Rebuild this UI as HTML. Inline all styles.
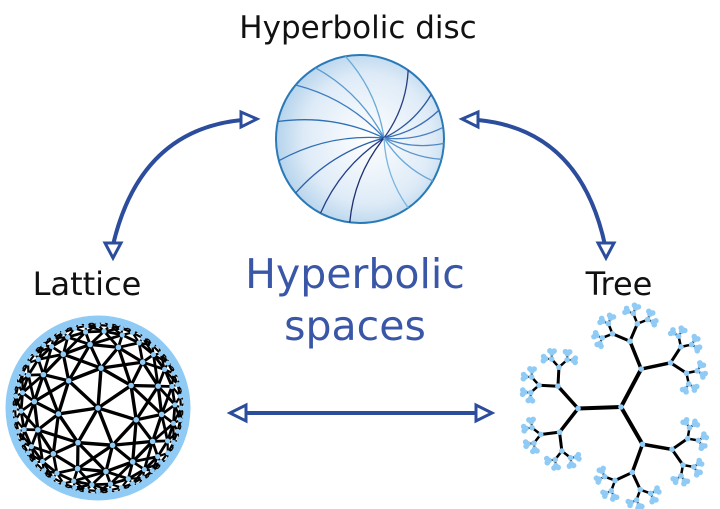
<!DOCTYPE html>
<html><head><meta charset="utf-8"><style>
html,body{margin:0;padding:0;background:#fff;}
svg{display:block;}
text{font-family:"DejaVu Sans","Liberation Sans",sans-serif;}
</style></head><body>
<svg id="s" width="720" height="509" viewBox="0 0 720 509" xmlns="http://www.w3.org/2000/svg">
<defs>
<radialGradient id="g" cx="0.55" cy="0.5" r="0.55">
<stop offset="0" stop-color="#ffffff"/>
<stop offset="0.7" stop-color="#deebf7"/>
<stop offset="1" stop-color="#b5d3ec"/>
</radialGradient>
</defs>
<text x="358" y="38" font-size="31" text-anchor="middle" fill="#111">Hyperbolic disc</text>
<text x="87" y="295" font-size="32" text-anchor="middle" fill="#111">Lattice</text>
<text x="619" y="295" font-size="32" text-anchor="middle" fill="#111">Tree</text>
<text x="355" y="288" font-size="41" text-anchor="middle" fill="#3a57a7">Hyperbolic</text>
<text x="355" y="340" font-size="41" text-anchor="middle" fill="#3a57a7">spaces</text>
<circle cx="360" cy="139" r="84" fill="url(#g)" stroke="#2a7ab8" stroke-width="2"/>
<g id="disc" fill="none" stroke-width="1.3"></g>
<g fill="none" stroke="#2c4c9c" stroke-width="4">
<path d="M242,120 Q140,130 113,245"/>
<path d="M478,120 Q580,130 605,245"/>
<path d="M243,413 H478"/>
</g>
<g fill="#fff" stroke="#2c4c9c" stroke-width="3" stroke-linejoin="miter">
<polygon points="257,119 241,112 241,127"/>
<polygon points="113,258 105,243 121,243"/>
<polygon points="462,119 478,112 478,127"/>
<polygon points="606,258 598,243 614,243"/>
<polygon points="230,413 246,405 246,421"/>
<polygon points="492,413 476,405 476,421"/>
</g>
<g id="lat"></g>
<g id="tree"></g>
</svg>
<script>
var NS="http://www.w3.org/2000/svg";
function el(p,t,a){var e=document.createElementNS(NS,t);for(var k in a)e.setAttribute(k,a[k]);p.appendChild(e);return e;}
var d=document.getElementById('disc'),cx=360,cy=139,R=84,px=384,py=138;
var angs=[[-100,'#6aaad8'],[-122,'#5a9ad0'],[-140,'#3c7cc0'],[-168,'#2f6fb5'],[165,'#2f6fb5'],[140,'#2d5fa8'],[118,'#253f8a'],[97,'#1e2f70'],[-55,'#2a3f80'],[-32,'#2f5aa0'],[-20,'#3a6db5'],[-8,'#4a80c0'],[3,'#4f88c5'],[14,'#5a95cc'],[30,'#6aa8d8'],[55,'#7ab5e0']];
angs.forEach(function(a){var t=a[0]*Math.PI/180,bx=cx+R*Math.cos(t),by=cy+R*Math.sin(t);
var mx=(bx+px)/2,my=(by+py)/2,dx=bx-px,dy=by-py;var c=0.15;
el(d,'path',{d:'M'+px+','+py+' Q'+(mx-dy*c)+','+(my+dx*c)+' '+bx+','+by,stroke:a[1]});});
var L=document.getElementById('lat'),lx=98,ly=408;
var rings=[[0,1,0],[40,7,0.3],[64,14,0.1],[77,26,0.2],[83,44,0],[87,70,0.1]];
var nodes=[];
rings.forEach(function(r,i){var a=[];for(var j=0;j<r[1];j++){var t=r[2]+j*2*Math.PI/r[1];a.push([lx+r[0]*Math.cos(t),ly+r[0]*Math.sin(t)]);}nodes.push(a);});
var widths=[3.4,3.4,3.2,2.8,2.2,1.6];
for(var i=1;i<nodes.length;i++){var a=nodes[i],w=widths[i];
for(var j=0;j<a.length;j++){var b=a[(j+1)%a.length];el(L,'line',{x1:a[j][0],y1:a[j][1],x2:b[0],y2:b[1],stroke:'#000','stroke-width':w});
var pr=nodes[i-1].slice().sort(function(p,q){return Math.hypot(p[0]-a[j][0],p[1]-a[j][1])-Math.hypot(q[0]-a[j][0],q[1]-a[j][1]);});
var n=(i==1)?1:2;
for(var k=0;k<Math.min(n,pr.length);k++)el(L,'line',{x1:a[j][0],y1:a[j][1],x2:pr[k][0],y2:pr[k][1],stroke:'#000','stroke-width':w});}}
el(L,'circle',{cx:lx,cy:ly,r:89,fill:'none',stroke:'#8fcbf5','stroke-width':7});
var nr=[2.8,2.8,2.8,2.6,2.5,2.6];
nodes.forEach(function(a,i){a.forEach(function(p){el(L,'circle',{cx:p[0],cy:p[1],r:nr[i],fill:'#8fcbf5'});});});
var T=document.getElementById('tree'),tx=621,ty=407,pts=[];
var lens=[43,30,19,11,6,3],spr=[0,50,45,45,45,45],wd=[4,3.5,3,2.5,2,1.5];
function grow(x,y,ang,depth){pts.push([x,y]);if(depth>=lens.length)return;
var a1=ang-spr[depth]*Math.PI/180,a2=ang+spr[depth]*Math.PI/180;
[a1,a2].forEach(function(a){var nx=x+lens[depth]*Math.cos(a),ny=y+lens[depth]*Math.sin(a);
el(T,'line',{x1:x,y1:y,x2:nx,y2:ny,stroke:'#000','stroke-width':wd[depth]});grow(nx,ny,a,depth+1);});}
pts.push([tx,ty]);
[178,-62,60].forEach(function(g){var a=g*Math.PI/180,nx=tx+lens[0]*Math.cos(a),ny=ty+lens[0]*Math.sin(a);
el(T,'line',{x1:tx,y1:ty,x2:nx,y2:ny,stroke:'#000','stroke-width':4});grow(nx,ny,a,1);});
pts.forEach(function(p){el(T,'circle',{cx:p[0],cy:p[1],r:2.8,fill:'#8fcbf5'});});
</script>
</body></html>
